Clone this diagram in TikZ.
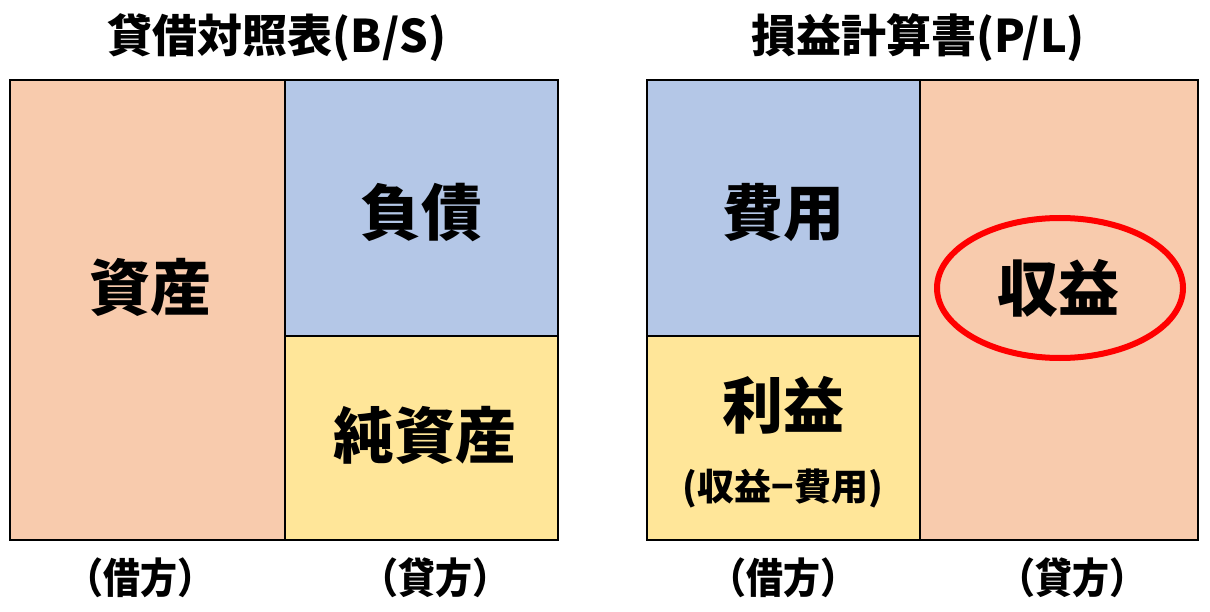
\documentclass[tikz,border=0pt]{standalone}
\usepackage{fontspec}
\setmainfont{Noto Sans CJK JP}
\usetikzlibrary{shapes.geometric}
\definecolor{cOrange}{HTML}{F8CBAD}
\definecolor{cBlue}{HTML}{B4C7E7}
\definecolor{cYellow}{HTML}{FFE699}
\definecolor{cRed}{HTML}{FF0000}
\newcommand{\tallText}[1]{\scalebox{1}[1.12]{#1}}
\tikzset{
  cell/.style={draw=black, line width=1.5pt, inner sep=0pt},
  big/.style={font=\fontsize{61}{61}\selectfont\bfseries},
  title/.style={font=\fontsize{45}{45}\selectfont\bfseries},
  side/.style={font=\fontsize{37}{37}\selectfont\bfseries},
  small/.style={font=\fontsize{37}{37}\selectfont\bfseries},
}
\begin{document}
\begin{tikzpicture}[x=1pt,y=-1pt]
\useasboundingbox (0,0) rectangle (1210,612);
\fill[white] (0,0) rectangle (1210,612);
% B/S
\filldraw[cell, fill=cOrange] (10,80) rectangle (285,540);
\filldraw[cell, fill=cBlue] (285,80) rectangle (558,336);
\filldraw[cell, fill=cYellow] (285,336) rectangle (558,540);
\draw[line width=2pt] (10,80) rectangle (558,540);
% P/L
\filldraw[cell, fill=cBlue] (647,80) rectangle (920,336);
\filldraw[cell, fill=cYellow] (647,336) rectangle (920,540);
\filldraw[cell, fill=cOrange] (920,80) rectangle (1198,540);
\draw[line width=2pt] (647,80) rectangle (1198,540);
% titles
\node[title] (tbs) at (277,38) {貸借対照表(B/S)};
\node[title] (tpl) at (918,38) {損益計算書(P/L)};
% cell texts
\node[big] (shisan) at (150,287) {資産};
\node[big] (fusai) at (421,213) {負債};
\node[big] (junshisan) at (425,435) {純資産};
\node[big] (hiyou) at (783,213) {費用};
\node[big] (rieki) at (783,405) {利益};
\node[small] (calc) at (783,488) {(収益−費用)};
\node[big] (shueki) at (1058,288) {収益};
\node[draw=cRed, line width=6pt, ellipse, minimum width=246pt, minimum height=140pt] (oval) at (1060,288) {};
% side labels
\node[side] (k1) at (140,578) {\tallText{（借方）}};
\node[side] (s1) at (435,578) {\tallText{（貸方）}};
\node[side] (k2) at (783,578) {\tallText{（借方）}};
\node[side] (s2) at (1072,578) {\tallText{（貸方）}};
\end{tikzpicture}
\end{document}
